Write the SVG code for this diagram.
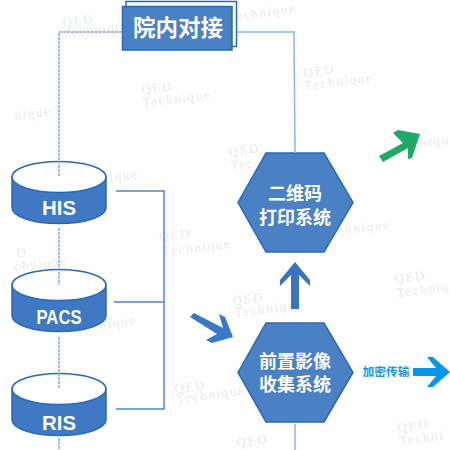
<svg xmlns="http://www.w3.org/2000/svg" width="450" height="450" viewBox="0 0 450 450">
<defs>
<style>
.wm{font-family:"Liberation Serif",serif;font-size:13px;fill:#ebebeb;letter-spacing:1.7px}
.lbl{font-family:"Noto Sans CJK SC","Liberation Sans",sans-serif;font-weight:700;fill:#fff;text-anchor:middle}
.sys{font-family:"Liberation Sans",sans-serif;font-weight:700;fill:#fff;text-anchor:middle;font-size:21px}
.cyl{fill:#3f79c4;stroke:#2a68b8;stroke-width:1.5}
.top{fill:#fff;stroke:#2a68b8;stroke-width:1.5}
.hex{fill:#4a80c4;stroke:#2a68b8;stroke-width:1.5}
.lt{fill:none;stroke:#8fb4e0;stroke-width:1.5}
.ds{fill:none;stroke:#7fa9dc;stroke-width:1.5;stroke-dasharray:3 1}
.bus{fill:none;stroke:#4a86cf;stroke-width:1.5}
</style>
</defs>
<rect width="450" height="450" fill="#fefefe"/>
<g id="watermarks">
<text class="wm" transform="translate(63,27) rotate(-7)">QED</text>
<text class="wm" transform="translate(63,38) rotate(-7)">Technique</text>
<text class="wm" transform="translate(228,21) rotate(-7)">Technique</text>
<text class="wm" transform="translate(142,94) rotate(-7)">QED</text>
<text class="wm" transform="translate(143,107) rotate(-7)">Technique</text>
<text class="wm" transform="translate(15,120) rotate(-7)">nique</text>
<text class="wm" transform="translate(110,182) rotate(-7)">ique</text>
<text class="wm" transform="translate(304,77) rotate(-7)">QED</text>
<text class="wm" transform="translate(305,90) rotate(-7)">Technique</text>
<text class="wm" transform="translate(229,156) rotate(-7)">QED</text>
<text class="wm" transform="translate(231,170) rotate(-7)">Tec</text>
<text class="wm" transform="translate(420,146) rotate(-3)">niqu</text>
<text class="wm" transform="translate(17,258) rotate(-7)">D</text>
<text class="wm" transform="translate(15,271) rotate(-7)">chnique</text>
<text class="wm" transform="translate(100,329) rotate(-7)">nique</text>
<text class="wm" transform="translate(160,241) rotate(-7)">QED</text>
<text class="wm" transform="translate(163,256) rotate(-7)">Technique</text>
<text class="wm" transform="translate(175,393) rotate(-7)">QED</text>
<text class="wm" transform="translate(177,403) rotate(-7)">Technique</text>
<text class="wm" transform="translate(233,305) rotate(-7)">QED</text>
<text class="wm" transform="translate(235,317) rotate(-7)">Technique</text>
<text class="wm" transform="translate(395,283) rotate(-7)">QED</text>
<text class="wm" transform="translate(397,297) rotate(-7)">Techniq</text>
<text class="wm" transform="translate(398,432) rotate(-7)">QED</text>
<text class="wm" transform="translate(400,445) rotate(-7)">Techni</text>
<text class="wm" transform="translate(322,237) rotate(-7)">Technique</text>
<text class="wm" transform="translate(237,447) rotate(-7)">QED</text>
</g>
<g id="box">
<rect x="126" y="1.500" width="110.500" height="45" fill="#fff" stroke="#2a68b8" stroke-width="1.500"/>
<rect x="122.500" y="6.500" width="109.500" height="43.500" fill="#4a80c4" stroke="#2a68b8" stroke-width="1.500"/>
<text class="lbl" x="178" y="36" font-size="22.500">院内对接</text>
</g>
<g id="his">
<path class="cyl" d="M12 177V208A47 15.500 0 0 0 106 208V177Z"/>
<ellipse class="top" cx="59" cy="177" rx="47" ry="15.500"/>
<text class="sys" x="59" y="215" textLength="34" lengthAdjust="spacingAndGlyphs">HIS</text>
</g>
<g id="pacs">
<path class="cyl" d="M12 285V316A47 15.500 0 0 0 106 316V285Z"/>
<ellipse class="top" cx="59" cy="285" rx="47" ry="15.500"/>
<text class="sys" x="59" y="324" textLength="45" lengthAdjust="spacingAndGlyphs">PACS</text>
</g>
<g id="ris">
<path class="cyl" d="M12 389V420A47 15.500 0 0 0 106 420V389Z"/>
<ellipse class="top" cx="59" cy="389" rx="47" ry="15.500"/>
<text class="sys" x="59" y="430" textLength="34" lengthAdjust="spacingAndGlyphs">RIS</text>
</g>
<g id="hex-print">
<polygon class="hex" points="266,153 324,153 353,202.500 324,252 266,252 238,202.500"/>
<text class="lbl" x="295" y="200" font-size="18">二维码</text>
<text class="lbl" x="295" y="224" font-size="18">打印系统</text>
</g>
<g id="hex-collect">
<polygon class="hex" points="266,323 324,323 353,372.500 324,422 266,422 238,372.500"/>
<text class="lbl" x="295" y="368" font-size="18">前置影像</text>
<text class="lbl" x="295" y="391" font-size="18">收集系统</text>
</g>
<g id="connectors">
<path class="ds" d="M122 32H59V176"/>
<path class="ds" d="M59 228V285M59 337V389M59 438V450"/>
<path class="lt" d="M237 32H294L295 153"/>
<path class="lt" d="M295 424V450"/>
<path class="bus" d="M116 191H164V409H116M114 302H164"/>
</g>
<g id="arrows">
<polygon fill="#3b78c4" points="190,317 194,313 223,328 219,314 225,317 233,337 212,343 206,340 217,334"/>
<polygon fill="#3b74bb" points="295,262 310,280 310,286 299,275 299,309 291,309 291,275 280,286 280,280"/>
<polygon fill="#1fa866" points="379,156 383,162 408,148 408,159 412,158 420,134 398,130 393,133 403,143"/>
<polygon fill="#0a96e6" points="450,372 433,357 427,357 436,368 413,368 413,376 436,376 427,387 433,387"/>
</g>
<text x="386" y="376" font-family="'Noto Sans CJK SC',sans-serif" font-size="11.750" font-weight="700" fill="#1a96dc" text-anchor="middle">加密传输</text>
</svg>
